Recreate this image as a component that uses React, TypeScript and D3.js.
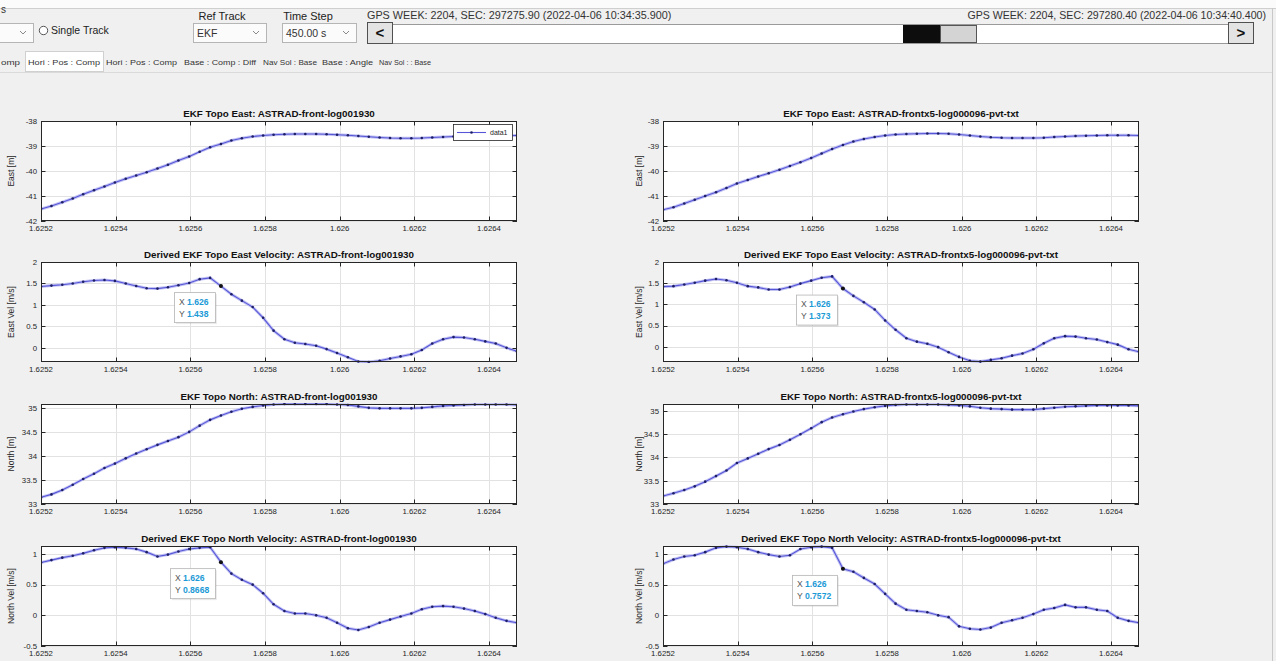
import React, { useRef, useEffect } from "react"
import * as d3 from "d3"

// sample times (x axis, same for every panel)
const time = [
  1.6252, 1.625228, 1.625257, 1.625285, 1.625313, 1.625342, 1.62537, 1.625398,
  1.625427, 1.625455, 1.625483, 1.625512, 1.62554, 1.625568, 1.625597,
  1.625625, 1.625653, 1.625682, 1.62571, 1.625738, 1.625767, 1.625795,
  1.625823, 1.625852, 1.62588, 1.625908, 1.625937, 1.625965, 1.625993,
  1.626022, 1.62605, 1.626078, 1.626107, 1.626135, 1.626163, 1.626192,
  1.62622, 1.626248, 1.626277, 1.626305, 1.626333, 1.626362, 1.62639,
  1.626418, 1.626447, 1.626475,
]
const timeTicks = [1.6252, 1.6254, 1.6256, 1.6258, 1.626, 1.6262, 1.6264]

const eastFront = [
  -41.52, -41.4, -41.25, -41.1, -40.93, -40.77, -40.62, -40.46, -40.31, -40.18,
  -40.05, -39.9, -39.75, -39.58, -39.42, -39.23, -39.05, -38.92, -38.78, -38.69,
  -38.62, -38.58, -38.55, -38.53, -38.52, -38.52, -38.52, -38.53, -38.55, -38.57,
  -38.6, -38.63, -38.66, -38.68, -38.69, -38.69, -38.68, -38.66, -38.64, -38.62,
  -38.6, -38.59, -38.58, -38.58, -38.58, -38.58,
]
const eastFrontx5 = [
  -41.55, -41.45, -41.3, -41.15, -41.0, -40.85, -40.68, -40.5, -40.36, -40.22,
  -40.09, -39.95, -39.8, -39.65, -39.48, -39.3, -39.12, -38.96, -38.82, -38.72,
  -38.64, -38.58, -38.54, -38.52, -38.51, -38.5, -38.5, -38.51, -38.54, -38.58,
  -38.62, -38.65, -38.67, -38.68, -38.68, -38.68, -38.67, -38.64, -38.62, -38.6,
  -38.59, -38.58, -38.57, -38.57, -38.57, -38.58,
]
const eastVelFront = [
  1.43, 1.45, 1.47, 1.5, 1.54, 1.57, 1.58, 1.56, 1.5, 1.44,
  1.39, 1.38, 1.41, 1.46, 1.51, 1.6, 1.63, 1.438, 1.25, 1.1,
  0.95, 0.7, 0.4, 0.2, 0.12, 0.09, 0.05, -0.03, -0.12, -0.22,
  -0.32, -0.33, -0.3, -0.25, -0.2, -0.15, -0.05, 0.1, 0.2, 0.25,
  0.24, 0.2, 0.15, 0.1, 0.0, -0.08,
]
const eastVelFrontx5 = [
  1.42, 1.43, 1.47, 1.51, 1.56, 1.6, 1.57, 1.51, 1.43, 1.4,
  1.35, 1.35, 1.41, 1.49, 1.56, 1.63, 1.66, 1.373, 1.2, 1.05,
  0.88, 0.62, 0.4, 0.2, 0.12, 0.07, -0.01, -0.13, -0.24, -0.33,
  -0.35, -0.31, -0.27, -0.21, -0.16, -0.06, 0.08, 0.2, 0.25, 0.24,
  0.2, 0.17, 0.11, 0.05, -0.06, -0.12,
]
const northFront = [
  33.14, 33.2, 33.29, 33.4, 33.52, 33.63, 33.75, 33.84, 33.95, 34.05,
  34.14, 34.23, 34.31, 34.39, 34.5, 34.63, 34.75, 34.84, 34.92, 34.98,
  35.02, 35.05, 35.07, 35.08, 35.08, 35.08, 35.08, 35.08, 35.07, 35.06,
  35.03, 35.0, 34.99, 34.99, 34.99, 34.99, 35.0, 35.02, 35.04, 35.05,
  35.06, 35.07, 35.07, 35.07, 35.07, 35.06,
]
const northFrontx5 = [
  33.17, 33.23, 33.3, 33.38, 33.48, 33.6, 33.72, 33.88, 33.98, 34.08,
  34.18, 34.27, 34.38, 34.5, 34.63, 34.76, 34.86, 34.93, 34.99, 35.04,
  35.08, 35.11, 35.13, 35.14, 35.14, 35.14, 35.14, 35.13, 35.12, 35.1,
  35.07, 35.05, 35.04, 35.03, 35.03, 35.03, 35.05, 35.07, 35.09, 35.1,
  35.11, 35.12, 35.12, 35.12, 35.12, 35.11,
]
const northVelFront = [
  0.86, 0.9, 0.94, 0.97, 1.01, 1.06, 1.1, 1.11, 1.1, 1.08,
  1.03, 0.96, 0.99, 1.04, 1.08, 1.1, 1.11, 0.8668, 0.68, 0.58,
  0.5, 0.36, 0.18, 0.07, 0.03, 0.03, 0.0, -0.04, -0.12, -0.21,
  -0.24, -0.19, -0.12, -0.07, -0.02, 0.03, 0.1, 0.14, 0.15, 0.14,
  0.11, 0.07, 0.02, -0.04, -0.09, -0.12,
]
const northVelFrontx5 = [
  0.84, 0.91, 0.96, 0.98, 1.03, 1.1, 1.12, 1.11, 1.08, 1.03,
  0.99, 0.96, 0.98, 1.08, 1.11, 1.12, 1.1, 0.7572, 0.71, 0.61,
  0.51, 0.35, 0.19, 0.09, 0.07, 0.05, 0.0, -0.03, -0.18, -0.22,
  -0.23, -0.2, -0.12, -0.08, -0.04, 0.02, 0.09, 0.12, 0.17, 0.13,
  0.13, 0.09, 0.07, -0.04, -0.09, -0.12,
]

const tabLabels = [
  "omp",
  "Hori : Pos : Comp",
  "Hori : Pos : Comp",
  "Base : Comp : Diff",
  "Nav Sol : Base",
  "Base : Angle",
  "Nav Sol : : Base",
]

type Panel = {
  title: string
  ylabel: string
  values: number[]
  yDomain: [number, number]
  yTicks: number[]
  tipIndex?: number
  legend?: boolean
}

const leftPanels: Panel[] = [
  { title: "EKF Topo East: ASTRAD-front-log001930", ylabel: "East [m]", values: eastFront, yDomain: [-42, -38], yTicks: [-42, -41, -40, -39, -38], legend: true },
  { title: "Derived EKF Topo East Velocity: ASTRAD-front-log001930", ylabel: "East Vel [m/s]", values: eastVelFront, yDomain: [-0.33, 2], yTicks: [0, 0.5, 1, 1.5, 2], tipIndex: 17 },
  { title: "EKF Topo North: ASTRAD-front-log001930", ylabel: "North [m]", values: northFront, yDomain: [33, 35.08], yTicks: [33, 33.5, 34, 34.5, 35] },
  { title: "Derived EKF Topo North Velocity: ASTRAD-front-log001930", ylabel: "North Vel [m/s]", values: northVelFront, yDomain: [-0.5, 1.13], yTicks: [-0.5, 0, 0.5, 1], tipIndex: 17 },
]
const rightPanels: Panel[] = [
  { title: "EKF Topo East: ASTRAD-frontx5-log000096-pvt-txt", ylabel: "East [m]", values: eastFrontx5, yDomain: [-42, -38], yTicks: [-42, -41, -40, -39, -38] },
  { title: "Derived EKF Topo East Velocity: ASTRAD-frontx5-log000096-pvt-txt", ylabel: "East Vel [m/s]", values: eastVelFrontx5, yDomain: [-0.36, 2], yTicks: [0, 0.5, 1, 1.5, 2], tipIndex: 17 },
  { title: "EKF Topo North: ASTRAD-frontx5-log000096-pvt-txt", ylabel: "North [m]", values: northFrontx5, yDomain: [33, 35.15], yTicks: [33, 33.5, 34, 34.5, 35] },
  { title: "Derived EKF Topo North Velocity: ASTRAD-frontx5-log000096-pvt-txt", ylabel: "North Vel [m/s]", values: northVelFrontx5, yDomain: [-0.5, 1.13], yTicks: [-0.5, 0, 0.5, 1], tipIndex: 17 },
]

const W = 1276
const H = 661
const FONT = "'Liberation Sans', Arial, Helvetica, sans-serif"
const AX = "#262626"
const rowTops = [121, 262, 404, 546]
const plotH = 100
const plotW = 476
const colLefts = [41, 663]
const ylabelOffset = [27, 21]

const fmt = (v: number) => String(+v.toFixed(4))
const tipFmt = d3.format(".4~g")

function drawPanel(svg, p: Panel, x0: number, y0: number, id: string, labelOff: number) {
  const x = d3.scaleLinear().domain([time[0], time[time.length - 1]]).range([x0, x0 + plotW])
  const y = d3.scaleLinear().domain(p.yDomain).range([y0 + plotH, y0])
  const g = svg.append("g")

  g.append("rect").attr("x", x0).attr("y", y0).attr("width", plotW).attr("height", plotH).attr("fill", "#fff")

  // grid
  g.selectAll(".gx").data(timeTicks).enter().append("line")
    .attr("x1", d => Math.round(x(d)) + 0.5).attr("x2", d => Math.round(x(d)) + 0.5)
    .attr("y1", y0).attr("y2", y0 + plotH)
    .attr("stroke", "#e2e2e2").attr("stroke-width", 1)
  g.selectAll(".gy").data(p.yTicks).enter().append("line")
    .attr("x1", x0).attr("x2", x0 + plotW)
    .attr("y1", d => Math.round(y(d)) + 0.5).attr("y2", d => Math.round(y(d)) + 0.5)
    .attr("stroke", "#e2e2e2").attr("stroke-width", 1)

  // series
  g.append("clipPath").attr("id", id).append("rect")
    .attr("x", x0).attr("y", y0 - 1).attr("width", plotW).attr("height", plotH + 2)
  const line = d3.line<number>().x((d, i) => x(time[i])).y(d => y(d))
  const data = g.append("g").attr("clip-path", `url(#${id})`)
  data.append("path").attr("d", line(p.values)).attr("fill", "none")
    .attr("stroke", "#c3c3f3").attr("stroke-width", 3)
  data.append("path").attr("d", line(p.values)).attr("fill", "none")
    .attr("stroke", "#5656d8").attr("stroke-width", 1.1)
  data.selectAll("circle").data(p.values).enter().append("circle")
    .attr("cx", (d, i) => x(time[i])).attr("cy", d => y(d)).attr("r", 1.3)
    .attr("fill", "#1f1f66")

  // box + ticks (inward, all four sides)
  g.append("rect").attr("x", x0 + 0.5).attr("y", y0 + 0.5).attr("width", plotW - 1).attr("height", plotH - 1)
    .attr("fill", "none").attr("stroke", AX).attr("stroke-width", 1)
  const tl = 4.5
  timeTicks.forEach(t => {
    const xx = Math.round(x(t)) + 0.5
    g.append("line").attr("x1", xx).attr("x2", xx).attr("y1", y0 + plotH).attr("y2", y0 + plotH - tl).attr("stroke", AX)
    g.append("line").attr("x1", xx).attr("x2", xx).attr("y1", y0).attr("y2", y0 + tl).attr("stroke", AX)
    g.append("text").attr("x", x(t)).attr("y", y0 + plotH + 10).attr("text-anchor", "middle")
      .attr("font-size", 7.8).attr("fill", AX).attr("font-family", FONT).text(fmt(t))
  })
  p.yTicks.forEach(v => {
    const yy = Math.round(y(v)) + 0.5
    g.append("line").attr("x1", x0).attr("x2", x0 + tl).attr("y1", yy).attr("y2", yy).attr("stroke", AX)
    g.append("line").attr("x1", x0 + plotW).attr("x2", x0 + plotW - tl).attr("y1", yy).attr("y2", yy).attr("stroke", AX)
    g.append("text").attr("x", x0 - 4).attr("y", y(v) + 2.8).attr("text-anchor", "end")
      .attr("font-size", 7.8).attr("fill", AX).attr("font-family", FONT).text(fmt(v))
  })

  g.append("text").attr("x", x0 + plotW / 2).attr("y", y0 - 4).attr("text-anchor", "middle")
    .attr("font-size", 9.8).attr("font-weight", "bold").attr("fill", "#111").attr("font-family", FONT)
    .text(p.title)
  g.append("text")
    .attr("transform", `translate(${x0 - labelOff},${y0 + plotH / 2}) rotate(-90)`)
    .attr("text-anchor", "middle").attr("font-size", 8.5).attr("fill", AX).attr("font-family", FONT)
    .text(p.ylabel)

  if (p.legend) {
    const lx = x0 + plotW - 64
    const ly = y0 + 3
    g.append("rect").attr("x", lx + 0.5).attr("y", ly + 0.5).attr("width", 59).attr("height", 16)
      .attr("fill", "#fff").attr("stroke", AX).attr("stroke-width", 0.8)
    g.append("line").attr("x1", lx + 4).attr("x2", lx + 33).attr("y1", ly + 8.5).attr("y2", ly + 8.5)
      .attr("stroke", "#5656d8").attr("stroke-width", 1.1)
    g.append("circle").attr("cx", lx + 18.5).attr("cy", ly + 8.5).attr("r", 1.3).attr("fill", "#1f1f66")
    g.append("text").attr("x", lx + 37).attr("y", ly + 11).attr("font-size", 7)
      .attr("fill", AX).attr("font-family", FONT).text("data1")
  }

  if (p.tipIndex !== undefined) {
    const px = x(time[p.tipIndex])
    const py = y(p.values[p.tipIndex])
    const rows = [["X", tipFmt(time[p.tipIndex])], ["Y", tipFmt(p.values[p.tipIndex])]]
    const bw = rows[1][1].length > 5 ? 45 : 41
    const bh = 30
    const bx = px - bw - 6
    const by = py + 6
    g.append("rect").attr("x", bx + 2).attr("y", by + 2).attr("width", bw).attr("height", bh)
      .attr("fill", "#000").attr("opacity", 0.08)
    g.append("rect").attr("x", bx + 0.5).attr("y", by + 0.5).attr("width", bw).attr("height", bh)
      .attr("fill", "#fff").attr("stroke", "#b4b4b4").attr("stroke-width", 0.8)
    rows.forEach((r, k) => {
      const t = g.append("text").attr("x", bx + 5).attr("y", by + 12.5 + k * 12)
        .attr("font-size", 8.6).attr("font-family", FONT)
      t.append("tspan").attr("fill", "#555").text(r[0] + " ")
      t.append("tspan").attr("fill", "#1b9ad6").attr("font-weight", "bold").text(r[1])
    })
    g.append("circle").attr("cx", px).attr("cy", py).attr("r", 2).attr("fill", "#111")
  }
}

function dropdown(svg, x0: number, w: number, label: string) {
  svg.append("rect").attr("x", x0 + 0.5).attr("y", 23.5).attr("width", w).attr("height", 19)
    .attr("fill", "#fbfbfb").attr("stroke", "#b5b5b5")
  svg.append("text").attr("x", x0 + 4).attr("y", 37).attr("font-size", 10.5).attr("fill", "#333")
    .attr("font-family", FONT).text(label)
  const ax = x0 + w - 10
  svg.append("path").attr("d", `M${ax - 3},31 L${ax},34 L${ax + 3},31`).attr("fill", "none")
    .attr("stroke", "#8a8a8a").attr("stroke-width", 1)
}

function drawChrome(svg) {
  svg.append("rect").attr("width", W).attr("height", H).attr("fill", "#f0f0f0")
  svg.append("rect").attr("width", W).attr("height", 8).attr("fill", "#fbfbfb")
  svg.append("line").attr("x1", 0).attr("x2", W).attr("y1", 8.5).attr("y2", 8.5).attr("stroke", "#cfcfcf")
  svg.append("line").attr("x1", 1272.5).attr("x2", 1272.5).attr("y1", 8).attr("y2", H).attr("stroke", "#c8c8c8")

  svg.append("text").attr("x", 1).attr("y", 13).attr("font-size", 10).attr("fill", "#333")
    .attr("font-family", FONT).text("s")
  dropdown(svg, -40, 73, "")
  svg.append("circle").attr("cx", 43.5).attr("cy", 30.5).attr("r", 4.2).attr("fill", "#fff").attr("stroke", "#555")
  svg.append("text").attr("x", 51).attr("y", 34).attr("font-size", 10.5).attr("fill", "#222")
    .attr("font-family", FONT).text("Single Track")

  svg.append("text").attr("x", 222).attr("y", 20).attr("text-anchor", "middle").attr("font-size", 11)
    .attr("fill", "#222").attr("font-family", FONT).text("Ref Track")
  svg.append("text").attr("x", 308).attr("y", 20).attr("text-anchor", "middle").attr("font-size", 11)
    .attr("fill", "#222").attr("font-family", FONT).text("Time Step")
  dropdown(svg, 193, 73, "EKF")
  dropdown(svg, 282, 74, "450.00 s")

  svg.append("text").attr("x", 367).attr("y", 19).attr("font-size", 10.8).attr("fill", "#333")
    .attr("font-family", FONT).text("GPS WEEK: 2204, SEC: 297275.90 (2022-04-06 10:34:35.900)")
  svg.append("text").attr("x", 1266).attr("y", 19).attr("text-anchor", "end").attr("font-size", 10.6)
    .attr("fill", "#333").attr("font-family", FONT)
    .text("GPS WEEK: 2204, SEC: 297280.40 (2022-04-06 10:34:40.400)")

  svg.append("rect").attr("x", 391.5).attr("y", 24.5).attr("width", 837).attr("height", 19)
    .attr("fill", "#fff").attr("stroke", "#9a9a9a")
  svg.append("rect").attr("x", 903).attr("y", 25).attr("width", 37).attr("height", 18).attr("fill", "#0d0d0d")
  svg.append("rect").attr("x", 940.5).attr("y", 25.5).attr("width", 36).attr("height", 17)
    .attr("fill", "#d4d4d4").attr("stroke", "#555")
  ;[[367.5, "<"], [1228.5, ">"]].forEach(([bx, s]) => {
    svg.append("rect").attr("x", bx).attr("y", 22.5).attr("width", 25).attr("height", 21)
      .attr("fill", "#e3e3e3").attr("stroke", "#505050")
    svg.append("text").attr("x", (bx as number) + 12.5).attr("y", 38).attr("text-anchor", "middle")
      .attr("font-size", 15).attr("font-weight", "bold").attr("fill", "#111").attr("font-family", FONT)
      .text(s as string)
  })

  // tab strip
  const tabX = [1, 28, 106, 184, 263, 322, 379]
  const tabW = [19, 72, 71, 72, 54, 51, 52]
  svg.append("rect").attr("x", 25.5).attr("y", 51.5).attr("width", 78).attr("height", 20)
    .attr("fill", "#fff").attr("stroke", "#d0d0d0")
  tabLabels.forEach((t, i) => {
    svg.append("text").attr("x", tabX[i]).attr("y", 64.5)
      .attr("font-size", 7.6).attr("fill", "#333").attr("font-family", FONT)
      .attr("textLength", tabW[i]).attr("lengthAdjust", "spacingAndGlyphs").text(t)
  })
  svg.append("line").attr("x1", 0).attr("x2", 1272).attr("y1", 72.5).attr("y2", 72.5).attr("stroke", "#dadada")
}

export default function App() {
  const ref = useRef<SVGSVGElement>(null)

  useEffect(() => {
    if (ref.current == null) return
    const svg = d3.select(ref.current)
    svg.selectAll("*").remove()
    drawChrome(svg)
    leftPanels.forEach((p, i) => drawPanel(svg, p, colLefts[0], rowTops[i], "clipL" + i, ylabelOffset[0]))
    rightPanels.forEach((p, i) => drawPanel(svg, p, colLefts[1], rowTops[i], "clipR" + i, ylabelOffset[1]))
  }, [])

  return (
    <svg
      ref={ref}
      width={W}
      height={H}
      style={{ position: "absolute", left: 0, top: 0, display: "block" }}
    />
  )
}
